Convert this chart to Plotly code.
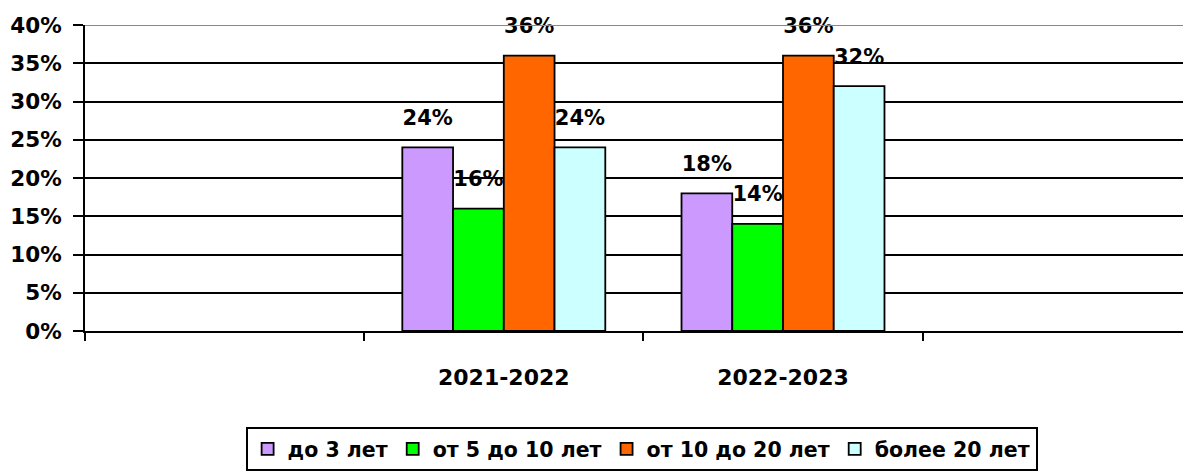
import plotly.graph_objects as go

# ---- data ----
periods = ["2021-2022", "2022-2023"]
period_pos = [1, 2]
series_names = ["до 3 лет", "от 5 до 10 лет", "от 10 до 20 лет", "более 20 лет"]
v_upto3 = [0.24, 0.18]
v_5to10 = [0.16, 0.14]
v_10to20 = [0.36, 0.36]
v_over20 = [0.24, 0.32]
colors = ["#CC99FF", "#00FF00", "#FF6600", "#CCFFFF"]
y_ticks = [0, 0.05, 0.10, 0.15, 0.20, 0.25, 0.30, 0.35, 0.40]

all_values = [v_upto3, v_5to10, v_10to20, v_over20]
FONT = "DejaVu Sans"

fig = go.Figure()
for name, vals, col in zip(series_names, all_values, colors):
    fig.add_trace(go.Bar(
        x=period_pos, y=vals, name=name,
        marker=dict(color=col, line=dict(color="black", width=1.8)),
        hoverinfo="skip",
    ))
# value labels, grouped like the bars
for name, vals in zip(series_names, all_values):
    fig.add_trace(go.Scatter(
        x=period_pos, y=vals, mode="markers+text",
        text=[f"{round(v*100)}%" for v in vals],
        textposition="top center",
        textfont=dict(family=FONT, size=21, color="black", weight="bold"),
        marker=dict(size=26, color="rgba(0,0,0,0)", line=dict(width=0)),
        showlegend=False, hoverinfo="skip", cliponaxis=False,
    ))

fig.update_layout(
    width=1191, height=473,
    margin=dict(l=77, r=0, t=17, b=150, autoexpand=False),
    paper_bgcolor="white", plot_bgcolor="white",
    barmode="group", bargap=0.273, bargroupgap=0,
    scattermode="group", scattergap=0.273,
    font=dict(family=FONT, color="black"),
    showlegend=True,
    legend=dict(
        orientation="h", xref="container", yref="container",
        x=0.532, xanchor="center", y=1 - 419/473, yanchor="top",
        bordercolor="black", borderwidth=2, bgcolor="white",
        font=dict(family=FONT, size=20.5, color="black", weight="bold"),
        traceorder="normal",
    ),
    xaxis=dict(
        range=[-0.5, 3.49], automargin=False,
        tickmode="array", tickvals=period_pos, ticktext=periods,
        ticks="", showgrid=False, zeroline=False,
        showline=True, linecolor="black", linewidth=2,
        tickfont=dict(family=FONT, size=22, color="black", weight="bold"),
        ticklabelstandoff=26,
        minor=dict(tick0=0.5, dtick=1, ticks="outside", ticklen=8,
                   tickwidth=2, tickcolor="black", showgrid=False),
    ),
    yaxis=dict(
        range=[0, 0.4], tickmode="array", tickvals=y_ticks,
        tickformat=".0%", automargin=False,
        showgrid=True, gridcolor="black", gridwidth=1.5,
        zeroline=False,
        showline=True, linecolor="black", linewidth=2,
        ticks="outside", ticklen=10, tickwidth=2, tickcolor="black",
        tickfont=dict(family=FONT, size=21.5, color="black", weight="bold"),
        ticklabelstandoff=7,
    ),
    shapes=[dict(type="line", xref="paper", yref="y", x0=0, x1=1,
                 y0=0.4, y1=0.4, line=dict(color="#888888", width=2),
                 layer="above")],
)

fig.write_html("out.html")
